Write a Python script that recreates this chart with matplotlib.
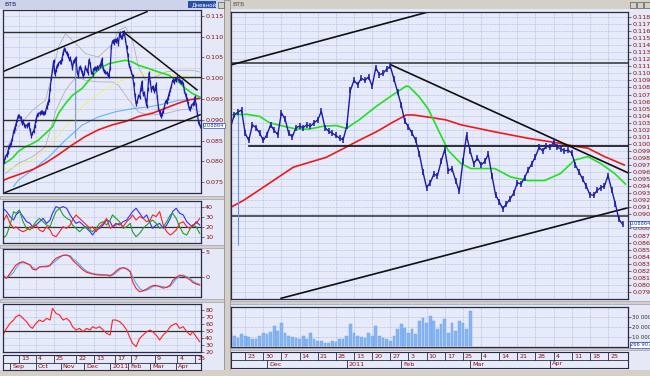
import matplotlib
matplotlib.use("Agg")
import matplotlib.pyplot as plt
from matplotlib.patches import Rectangle
import numpy as np

# ---------------- data (bar index = trading day) ----------------
close = [
    0.0796, 0.0785, 0.0800, 0.0811, 0.0815, 0.0822, 0.0835, 0.0840, 0.0845, 0.0855,
    0.0872, 0.0880, 0.0890, 0.0899, 0.0910, 0.0909, 0.0905, 0.0893, 0.0897, 0.0888,
    0.0884, 0.0886, 0.0890, 0.0889, 0.0875, 0.0862, 0.0868, 0.0872, 0.0885, 0.0900,
    0.0911, 0.0914, 0.0916, 0.0918, 0.0919, 0.0917, 0.0916, 0.0918, 0.0930, 0.0940,
    0.0948, 0.0975, 0.1000, 0.1020, 0.1042, 0.1010, 0.1020, 0.1030, 0.1035, 0.1039,
    0.1040, 0.1045, 0.1060, 0.1071, 0.1067, 0.1060, 0.1055, 0.1047, 0.1048, 0.1040,
    0.1024, 0.1041, 0.1045, 0.1048, 0.1015, 0.1005, 0.1027, 0.1023, 0.1015, 0.1005,
    0.1013, 0.1027, 0.1019, 0.1013, 0.1044, 0.1035, 0.1015, 0.1010, 0.1023, 0.1025,
    0.1023, 0.1027, 0.1025, 0.1030, 0.1034, 0.1046, 0.1023, 0.1018, 0.1015, 0.1012,
    0.1008, 0.1006, 0.1025, 0.1076, 0.1090, 0.1084, 0.1093, 0.1090, 0.1095, 0.1082,
    0.1108, 0.1098, 0.1100, 0.1106, 0.1110, 0.1092, 0.1074, 0.1055, 0.1032, 0.1024,
    0.1015, 0.1005, 0.0986, 0.0960, 0.0938, 0.0945, 0.0957, 0.0955, 0.0975, 0.0992,
    0.0962, 0.0965, 0.0948, 0.0933, 0.0975, 0.1012, 0.0990, 0.0972, 0.0980, 0.0970,
    0.0975, 0.0985, 0.0955, 0.0928, 0.0918, 0.0908, 0.0915, 0.0922, 0.0930, 0.0945,
    0.0943, 0.0952, 0.0963, 0.0972, 0.0982, 0.0995, 0.0990, 0.0997, 0.0995, 0.1002,
    0.0995, 0.0993, 0.0990, 0.0991, 0.0987, 0.0970, 0.0960, 0.0950, 0.0940, 0.0928,
    0.0927, 0.0934, 0.0938, 0.0940, 0.0955, 0.0935, 0.0915, 0.0893, 0.0886,
]
spike_bar, spike_lo, spike_hi = 62, 0.0857, 0.1045
last_price = 0.08864

# left-window moving averages / bands (bar, value)
lg_x = [-1, 3, 9, 14, 20, 26, 31, 37, 43, 48, 54, 60, 68, 74, 80, 85, 91, 99, 105, 111, 116, 125, 133, 142, 150, 156, 162, 168]
lg_y = [0.0792, 0.0796, 0.0808, 0.0824, 0.0835, 0.0843, 0.0851, 0.0867, 0.0883, 0.0915, 0.0939, 0.0959, 0.0975, 0.0995,
        0.1015, 0.1027, 0.1035, 0.1040, 0.1043, 0.1039, 0.1031, 0.1023, 0.1015, 0.1007, 0.0991, 0.0975, 0.0963, 0.0955]
lr_x = [-1, 6, 14, 26, 37, 48, 60, 71, 82, 94, 105, 116, 128, 139, 150, 159, 168]
lr_y = [0.0752, 0.0760, 0.0768, 0.0780, 0.0796, 0.0816, 0.0840, 0.0860, 0.0876, 0.0888, 0.0896, 0.0908, 0.0916, 0.0928,
        0.0940, 0.0948, 0.0952]
lc_x = [10, 14, 26, 40, 54, 68, 82, 96, 111, 125, 139, 150, 162, 168]
lc_y = [0.0740, 0.0755, 0.0779, 0.0811, 0.0851, 0.0887, 0.0907, 0.0919, 0.0927, 0.0931, 0.0939, 0.0947, 0.0949, 0.0950]
ly_x = [0, 12, 26, 40, 54, 68, 82, 96, 111, 125, 139, 153, 168]
ly_y = [0.0779, 0.0787, 0.0803, 0.0835, 0.0883, 0.0931, 0.0963, 0.0987, 0.1007, 0.1013, 0.1011, 0.1007, 0.0999]
lu_x = [3, 14, 26, 37, 43, 48, 54, 63, 71, 82, 94, 99, 105, 111, 116, 122, 130, 139, 150, 162, 168]
lu_y = [0.0827, 0.0883, 0.0923, 0.0947, 0.1011, 0.1075, 0.1107, 0.1083, 0.1059, 0.1051, 0.1083, 0.1115, 0.1123, 0.1091,
        0.1027, 0.0995, 0.1003, 0.1015, 0.1019, 0.1019, 0.1015]
ll_x = [3, 14, 26, 37, 46, 54, 63, 71, 82, 94, 99, 108, 116, 125, 139, 150, 162, 168]
ll_y = [0.0771, 0.0795, 0.0811, 0.0835, 0.0923, 0.0971, 0.1003, 0.0995, 0.0991, 0.0991, 0.0983, 0.0947, 0.0919, 0.0911,
        0.0915, 0.0923, 0.0927, 0.0919]

# right-window moving averages
rg_x = [59.7, 64.4, 68, 70.7, 74.6, 78.1, 81.7, 85.5, 89.1, 91.9, 95.4, 100.1, 104.8, 108.4, 109.2, 111.9, 114.4, 117.2,
        119.9, 123.5, 126.2, 132.8, 137.2, 141.9, 146.5, 150.9, 154.8, 158.4, 162, 165.8, 168.8]
rg_y = [0.1041, 0.1042, 0.1039, 0.1030, 0.1025, 0.1021, 0.1021, 0.1025, 0.1026, 0.1022, 0.1034, 0.1053, 0.1070, 0.1082,
        0.1081, 0.1067, 0.1050, 0.1020, 0.0991, 0.0972, 0.0965, 0.0965, 0.0953, 0.0948, 0.0948, 0.0958, 0.0977, 0.0982,
        0.0972, 0.0958, 0.0943]
rr_x = [59.7, 63.6, 68, 77.3, 86.4, 91.3, 95.4, 100.1, 104.8, 108.4, 110.3, 114.4, 119.3, 123.5, 132.8, 141.9, 149.3,
        155.6, 158.4, 163, 168.5]
rr_y = [0.0909, 0.0920, 0.0935, 0.0967, 0.0981, 0.0994, 0.1005, 0.1017, 0.1031, 0.1041, 0.1041, 0.1038, 0.1034, 0.1027,
        0.1017, 0.1008, 0.1002, 0.0996, 0.0994, 0.0982, 0.0970]

# support / resistance lines: ((x0, x1), (y0, y1))
left_lines = [((-1.5, 123.3), (0.1013, 0.1160)), ((2.7, 168.3), (0.0725, 0.0912)), ((102.9, 165.7), (0.1112, 0.0972))]
left_levels = [0.1112, 0.1002, 0.0900, 0.0836]
right_lines = [((60.1, 114.4), (0.1112, 0.1187)), ((73.9, 169.2), (0.0781, 0.0909)), ((104.2, 169.5), (0.1112, 0.0959)),
               ((65.0, 169.5), (0.0997, 0.0997))]
right_levels = [0.1114, 0.0897]

# volume (right window) starting at bar 60
vol_start = 60
volume = [14000, 10500, 8800, 12300, 10500, 9800, 7700, 7700, 10500, 14000,
          12300, 14700, 21000, 15800, 24500, 13300, 10500, 9800, 8800, 7700,
          10500, 7000, 14000, 7000, 5300, 5300, 3500, 3500, 5300, 4200,
          7000, 7700, 10500, 22800, 14000, 10500, 9800, 8800, 14000, 10500,
          21000, 10500, 8800, 7000, 5300, 10500, 17500, 22800, 19300, 14000,
          17500, 12300, 26300, 29800, 24500, 31600, 26300, 17500, 22800, 28000,
          14000, 24500, 15800, 26300, 24500, 17500, 36800]
last_volume_label = "266 907"

# indicator panels (left window), sampled at these bars
ind_x = [1, 4, 7, 10, 12, 15, 18, 21, 24, 26, 29, 32, 35, 38, 41, 43, 46, 49, 52, 55, 58, 60, 63, 66, 69, 72, 75, 77,
         80, 83, 86, 89, 92, 94, 97, 100, 103, 106, 109, 111, 114, 117, 120, 123, 126, 128, 131, 134, 137, 140, 143,
         145, 148, 151, 154, 157, 160, 162, 165, 168]
dmi_blue = [39.0, 35.6, 30.5, 27.0, 32.2, 35.6, 30.5, 25.3, 23.6, 20.2, 21.9, 25.3, 28.7, 23.6, 27.0, 33.9, 40.7, 39.0,
            40.7, 39.0, 32.2, 28.7, 23.6, 25.3, 21.9, 18.5, 15.1, 11.7, 16.8, 18.5, 21.9, 27.0, 25.3, 20.2, 23.6, 21.9,
            25.3, 27.0, 32.2, 35.6, 39.0, 33.9, 28.7, 32.2, 23.6, 18.5, 21.9, 23.6, 18.5, 21.9, 28.7, 35.6, 39.0, 33.9,
            32.2, 25.3, 21.9, 20.2, 25.3, 21.9]
dmi_green = [8.3, 11.7, 21.9, 35.6, 33.9, 37.3, 25.3, 18.5, 16.8, 20.2, 25.3, 28.7, 25.3, 21.9, 20.2, 27.0, 35.6, 39.0,
             32.2, 28.7, 27.0, 21.9, 18.5, 15.1, 18.5, 20.2, 16.8, 15.1, 18.5, 23.6, 25.3, 21.9, 27.0, 32.2, 28.7, 25.3,
             18.5, 20.2, 23.6, 15.1, 10.0, 13.4, 18.5, 21.9, 25.3, 27.0, 23.6, 18.5, 20.2, 25.3, 32.2, 33.9, 28.7, 20.2,
             13.4, 11.7, 18.5, 21.9, 20.2, 13.4]
dmi_red = [25.3, 32.2, 23.6, 18.5, 20.2, 16.8, 15.1, 16.8, 20.2, 18.5, 21.9, 16.8, 15.1, 20.2, 16.8, 11.7, 10.0, 15.1,
           20.2, 18.5, 21.9, 27.0, 32.2, 28.7, 25.3, 21.9, 18.5, 20.2, 15.1, 20.2, 23.6, 28.7, 18.5, 20.2, 21.9, 23.6,
           20.2, 25.3, 28.7, 32.2, 27.0, 30.5, 28.7, 25.3, 27.0, 32.2, 30.5, 35.6, 21.9, 15.1, 11.7, 13.4, 16.8, 23.6,
           25.3, 20.2, 18.5, 21.9, 23.6, 28.7]
macd_red = [0.0, -0.33, 0.67, 1.67, 2.33, 2.8, 3.0, 2.67, 2.33, 1.53, 1.33, 2.0, 2.0, 2.0, 2.2, 3.0, 3.67, 4.0, 4.27, 4.33,
            4.0, 3.33, 2.67, 2.0, 1.33, 0.87, 0.67, 0.53, 0.4, 0.33, 0.33, 0.33, 0.13, 0.47, 1.13, 1.67, 1.8, 1.53, 1.0,
            -1.0, -2.33, -3.0, -2.8, -2.47, -2.0, -1.8, -1.73, -2.0, -2.27, -2.13, -1.67, -0.8, -0.13, 0.33, 0.13, -0.2,
            -0.67, -1.13, -1.47, -1.67]
macd_blue = [0.33, -0.2, 0.2, 0.87, 1.67, 2.67, 2.8, 2.67, 2.33, 1.87, 1.53, 1.87, 2.07, 2.13, 2.33, 2.67, 3.2, 3.8, 4.27,
             4.33, 4.2, 3.67, 3.13, 2.47, 1.67, 1.13, 0.8, 0.67, 0.53, 0.47, 0.4, 0.33, 0.33, 0.33, 0.8, 1.4, 1.8, 1.67,
             1.13, 0.0, -1.33, -2.33, -2.87, -2.67, -2.33, -2.0, -1.87, -1.87, -2.0, -2.13, -1.93, -1.33, -0.47, 0.0,
             0.33, 0.0, -0.33, -0.87, -1.27, -1.53]
rsi = [44.3, 53.8, 61.0, 65.7, 70.5, 72.9, 68.1, 63.3, 56.2, 53.8, 61.0, 65.7, 63.3, 68.1, 65.7, 82.4, 75.2, 72.9, 65.7,
       68.1, 63.3, 56.2, 51.4, 53.8, 49.0, 53.8, 51.4, 56.2, 53.8, 56.2, 51.4, 46.7, 44.3, 65.7, 65.7, 63.3, 58.6, 51.4,
       39.5, 32.4, 27.6, 39.5, 44.3, 49.0, 51.4, 49.0, 44.3, 37.1, 44.3, 49.0, 56.2, 58.6, 61.0, 53.8, 56.2, 49.0, 44.3,
       49.0, 41.9, 34.8]

# time axis labels
left_tick_bars = [15, 29, 44, 63, 78, 96, 110, 130, 149, 164]
left_tick_labels = ["13", "4", "25", "22", "13", "17", "7", "9", "4", "25"]
left_month_bars = [7, 29, 50, 70, 92, 107, 126, 148]
left_month_labels = ["Sep", "Oct", "Nov", "Dec", "2011", "Feb", "Mar", "Apr"]
right_tick_bars = [64, 69, 74, 79, 84, 89, 94, 99, 104, 109, 114, 119, 124, 129, 134, 139, 144, 149, 154, 159, 164]
right_tick_labels = ["23", "30", "7", "14", "21", "28", "13", "20", "27", "3", "10", "17", "25", "4", "14", "21", "28",
                     "4", "11", "18", "25"]
right_month_bars = [70, 92, 107, 126, 148]
right_month_labels = ["Dec", "2011", "Feb", "Mar", "Apr"]

# ---------------- drawing ----------------
W, H = 650, 376
fig = plt.figure(figsize=(6.5, 3.76), dpi=100)
fig.patch.set_facecolor('#e4e8f7')

BG = '#e6eaf9'
GRID = '#a4b6e6'
MAROON = '#8b1010'
PRICE = '#1c1ca6'
FRAME = '#2a2a48'
GREY = '#d4d0c8'


def ax_px(x0, y0, x1, y1):
    return fig.add_axes([x0 / W, 1 - y1 / H, (x1 - x0) / W, (y1 - y0) / H])


def rect_px(x, y, w, h, fc, ec='none', lw=0.0, z=0):
    fig.add_artist(Rectangle((x / W, 1 - (y + h) / H), w / W, h / H, transform=fig.transFigure,
                             facecolor=fc, edgecolor=ec, linewidth=lw, zorder=z))


def style(ax, xlim, ylim, yticks, ylabels, vgrid, hgrid, lsize=4.6):
    ax.set_facecolor(BG)
    ax.set_xlim(*xlim)
    ax.set_ylim(*ylim)
    ax.set_xticks([])
    ax.yaxis.tick_right()
    ax.set_yticks(yticks)
    ax.set_yticklabels(ylabels)
    ax.tick_params(axis='y', length=2, width=0.5, pad=1, labelsize=lsize, labelcolor=MAROON, color='#404040')
    for v in vgrid:
        ax.axvline(v, color=GRID, lw=0.5, ls=(0, (1, 1)), zorder=0)
    for h in hgrid:
        ax.axhline(h, color=GRID, lw=0.5, ls=(0, (1, 1)), zorder=0)
    for s in ax.spines.values():
        s.set_color(FRAME)
        s.set_linewidth(0.9)


def date_axis(ax, xlim, tb, tl, mb, ml):
    ax.set_facecolor(BG)
    ax.set_xlim(*xlim)
    ax.set_ylim(0, 2)
    ax.set_xticks([])
    ax.set_yticks([])
    ax.axhline(1, color=FRAME, lw=0.6)
    for b, lab in zip(tb, tl):
        ax.plot([b, b], [1, 2], color=FRAME, lw=0.6)
        ax.annotate(lab, (b, 1.5), xytext=(1.5, 0), textcoords='offset points', fontsize=4.6,
                    color=MAROON, va='center', ha='left', annotation_clip=False)
    for b, lab in zip(mb, ml):
        ax.plot([b, b], [0, 1], color=FRAME, lw=0.6)
        ax.annotate(lab, (b, 0.5), xytext=(1.5, 0), textcoords='offset points', fontsize=4.6,
                    color=MAROON, va='center', ha='left', annotation_clip=False)
    for s in ax.spines.values():
        s.set_color(FRAME)
        s.set_linewidth(0.8)


def value_box(ax, x, y, text):
    ax.annotate(text, (x, y), xytext=(1.5, 0), textcoords='offset points', fontsize=3.7,
                color='#1a3aa0', va='center', ha='left', annotation_clip=False, zorder=10,
                bbox=dict(boxstyle='square,pad=0.08', fc='white', ec='#3050c0', lw=0.5))


bars = np.arange(len(close))

# window chrome
rect_px(0, 0, 226, 9, '#cdd3ea')
rect_px(228, 0, 422, 9, GREY)
rect_px(224, 0, 6, 376, GREY, ec='#808080', lw=0.5)
rect_px(0, 370, 650, 6, GREY)
rect_px(188, 1, 28, 7, '#2850a8')
fig.text(192 / W, 1 - 4.8 / H, "Дневной", fontsize=4, color='white', va='center')
fig.text(4 / W, 1 - 4.8 / H, "ВТБ", fontsize=4.5, color='#202060', va='center')
fig.text(232 / W, 1 - 4.8 / H, "ВТБ", fontsize=4.5, color='#505050', va='center')
for xb in (218, 630, 637, 644):
    rect_px(xb, 1.5, 5.5, 6, GREY, ec='#404040', lw=0.4)
for yb in (196, 245, 299):
    rect_px(0, yb, 224, 3, GREY, ec='#9090a0', lw=0.4)
rect_px(230, 301, 420, 3, GREY, ec='#9090a0', lw=0.4)
rect_px(230, 348, 420, 2, GREY, ec='#9090a0', lw=0.4)

# ---- left main price chart ----
LX = (1.0, 169.1)
axL = ax_px(3, 10, 201, 193)
lyt = [0.075, 0.080, 0.085, 0.090, 0.095, 0.100, 0.105, 0.110, 0.115]
style(axL, LX, (0.0724, 0.1164), lyt, ["%.3f" % v for v in lyt], left_tick_bars, np.arange(0.0725, 0.116, 0.0025))
axL.plot(lu_x, lu_y, color='#a8a8b0', lw=0.5)
axL.plot(ll_x, ll_y, color='#a8a8b0', lw=0.5)
axL.plot(ly_x, ly_y, color='#f0f070', lw=0.6)
axL.plot(lc_x, lc_y, color='#60b4ff', lw=0.8)
axL.plot(lr_x, lr_y, color='#f01818', lw=1.2)
axL.plot(lg_x, lg_y, color='#22e022', lw=1.2)
for lv in left_levels:
    axL.axhline(lv, color='#303030', lw=1.0)
for (xs, ys) in left_lines:
    axL.plot(xs, ys, color='#101010', lw=1.1)
axL.vlines([spike_bar], [spike_lo], [spike_hi], color='#6a8fe0', lw=0.6)
axL.plot(bars, close, color=PRICE, lw=0.9, marker='|', ms=3, mew=0.9)
value_box(axL, LX[1], last_price, "%.5f" % last_price)

# ---- left indicator panels ----
ax1 = ax_px(3, 201, 201, 243)
style(ax1, LX, (3.6, 46.4), [10, 20, 30, 40], ["10", "20", "30", "40"], left_tick_bars, [10, 20, 30, 40])
ax1.axhline(20, color='#303030', lw=0.9)
ax1.plot(ind_x, dmi_blue, color='#3030ff', lw=0.8)
ax1.plot(ind_x, dmi_green, color='#20a020', lw=0.8)
ax1.plot(ind_x, dmi_red, color='#ff2020', lw=0.8)

ax2 = ax_px(3, 249, 201, 297)
style(ax2, LX, (-4.06, 5.54), [0, 5], ["0", "5"], left_tick_bars, [-2.5, 0, 2.5, 5])
ax2.axhline(0, color='#303030', lw=0.9)
ax2.plot(ind_x, macd_blue, color='#50a8ff', lw=0.8)
ax2.plot(ind_x, macd_red, color='#ff2020', lw=0.8)

ax3 = ax_px(3, 304, 201, 352)
ryt = [20, 30, 40, 50, 60, 70, 80]
style(ax3, LX, (20, 88.6), ryt, [str(v) for v in ryt], left_tick_bars, ryt)
ax3.axhline(50, color='#303030', lw=0.9)
ax3.plot(ind_x, rsi, color='#ff2020', lw=0.8)

axLd = ax_px(3, 355, 201, 370)
date_axis(axLd, LX, left_tick_bars, left_tick_labels, left_month_bars, left_month_labels)

# ---- right main price chart ----
RX = (60.1, 169.5)
axR = ax_px(231, 12, 628, 299)
rgt = np.round(np.arange(0.079, 0.1185, 0.001), 3)
rlab = ["" if abs(v - 0.089) < 1e-6 else "%.3f" % v for v in rgt]
style(axR, RX, (0.0780, 0.1187), rgt, rlab, right_tick_bars, rgt)
axR.plot(rr_x, rr_y, color='#f01818', lw=1.2)
axR.plot(rg_x, rg_y, color='#22e022', lw=1.2)
for lv in right_levels:
    axR.axhline(lv, color='#303030', lw=1.1)
for (xs, ys) in right_lines:
    axR.plot(xs, ys, color='#101010', lw=1.2)
axR.vlines([spike_bar], [spike_lo], [spike_hi], color='#6a8fe0', lw=0.8)
axR.plot(bars, close, color=PRICE, lw=1.0, marker='|', ms=4.5, mew=1.1)
value_box(axR, RX[1], last_price, "%.5f" % last_price)

# ---- right volume ----
axV = ax_px(231, 307, 628, 347)
style(axV, RX, (-1000, 41000), [10000, 20000, 30000], ["10 000", "20 000", "30 000"], right_tick_bars,
      [10000, 20000, 30000], lsize=4.0)
axV.tick_params(axis='y', labelcolor='#303030')
vx = np.arange(vol_start, vol_start + len(volume))
axV.bar(vx, volume, width=0.75, color='#86b6f2', edgecolor='#6aa0ea', linewidth=0.3)
value_box(axV, RX[1], 1500, last_volume_label)

axRd = ax_px(231, 352, 628, 368)
date_axis(axRd, RX, right_tick_bars, right_tick_labels, right_month_bars, right_month_labels)

fig.savefig("out.png", dpi=100, facecolor=fig.get_facecolor())
